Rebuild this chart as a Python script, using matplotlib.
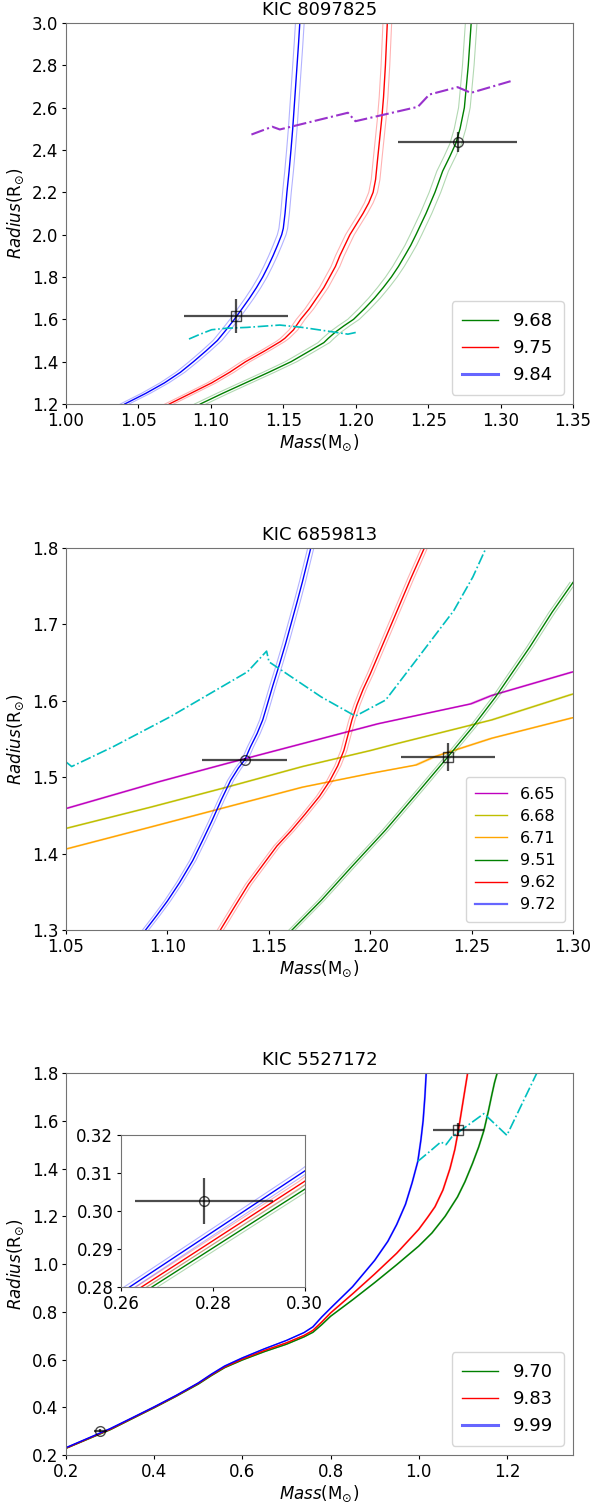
import matplotlib
matplotlib.use("Agg")
import numpy as np
import matplotlib.pyplot as plt

plt.rcParams["font.size"] = 12
plt.rcParams["xtick.major.size"] = 3
plt.rcParams["ytick.major.size"] = 3
plt.rcParams["xtick.major.pad"] = 2.5
plt.rcParams["ytick.major.pad"] = 2.5

# ---------------- KIC 8097825 ----------------
t1_labels = ["9.68", "9.75", "9.84"]
t1_colors = ["g", "r", "b"]
t1_mass = [
    [1.0927, 1.1080, 1.1240, 1.1400, 1.1554, 1.1680, 1.1780, 1.1810, 1.1860, 1.1920, 1.1985, 1.2060, 1.2129,
     1.2190, 1.2246, 1.2295, 1.2338, 1.2380, 1.2416, 1.2485, 1.2547, 1.2600, 1.2650, 1.2690, 1.2720, 1.2750,
     1.2777, 1.2797],
    [1.0713, 1.0860, 1.1006, 1.1130, 1.1240, 1.1370, 1.1480, 1.1510, 1.1570, 1.1620, 1.1680, 1.1730, 1.1780,
     1.1820, 1.1860, 1.1890, 1.1925, 1.1960, 1.2005, 1.2050, 1.2090, 1.2120, 1.2137, 1.2150, 1.2165, 1.2180,
     1.2192, 1.2205, 1.2218],
    [1.0405, 1.0550, 1.0680, 1.0790, 1.0880, 1.0965, 1.1045, 1.1105, 1.1162, 1.1215, 1.1267, 1.1315, 1.1358,
     1.1395, 1.1429, 1.1460, 1.1489, 1.1500, 1.1512, 1.1525, 1.1540, 1.1553, 1.1565, 1.1575, 1.1585, 1.1595,
     1.1605, 1.1614],
]
t1_radius = [
    [1.20, 1.25, 1.30, 1.35, 1.40, 1.45, 1.49, 1.51, 1.54, 1.57, 1.60, 1.65, 1.70,
     1.75, 1.80, 1.85, 1.90, 1.95, 2.00, 2.10, 2.20, 2.30, 2.37, 2.43, 2.50, 2.60,
     2.80, 3.00],
    [1.20, 1.25, 1.30, 1.35, 1.40, 1.45, 1.495, 1.51, 1.55, 1.60, 1.65, 1.70, 1.75,
     1.80, 1.85, 1.90, 1.95, 2.00, 2.05, 2.10, 2.15, 2.20, 2.26, 2.35, 2.45, 2.55,
     2.65, 2.80, 3.00],
    [1.20, 1.25, 1.30, 1.35, 1.40, 1.45, 1.50, 1.55, 1.60, 1.65, 1.70, 1.75, 1.80,
     1.85, 1.90, 1.95, 2.00, 2.03, 2.10, 2.20, 2.30, 2.40, 2.50, 2.60, 2.70, 2.80,
     2.90, 3.00],
]
t1_dm = [0.004, 0.003, 0.003]
t1_purple_m = [1.128, 1.1424, 1.1476, 1.1946, 1.1998, 1.2429, 1.2508, 1.2703, 1.2795, 1.3069]
t1_purple_r = [2.473, 2.510, 2.497, 2.576, 2.536, 2.604, 2.662, 2.697, 2.670, 2.725]
t1_cyan_m = [1.0849, 1.0927, 1.1006, 1.111, 1.125, 1.1476, 1.163, 1.179, 1.1946, 1.200]
t1_cyan_r = [1.507, 1.530, 1.551, 1.558, 1.562, 1.573, 1.562, 1.546, 1.530, 1.538]
t1_stars_m = [1.1175, 1.2703]
t1_stars_r = [1.617, 2.439]
t1_stars_me = [0.036, 0.041]
t1_stars_re = [0.080, 0.047]

# ---------------- KIC 6859813 ----------------
t2_labels = ["6.65", "6.68", "6.71", "9.51", "9.62", "9.72"]
t2_colors = ["m", "y", "orange", "g", "r", "b"]
t2_mass = [
    [1.05, 1.0957, 1.1293, 1.1666, 1.2039, 1.2496, 1.2599, 1.30],
    [1.05, 1.092, 1.1293, 1.1666, 1.2002, 1.2132, 1.2599, 1.30],
    [1.05, 1.092, 1.1293, 1.1666, 1.2002, 1.2226, 1.2319, 1.2599, 1.30],
    [1.1614, 1.1759, 1.1909, 1.2076, 1.2244, 1.2384, 1.2506, 1.2618, 1.2786, 1.2897, 1.30],
    [1.1261, 1.1330, 1.1400, 1.1470, 1.1540, 1.1610, 1.1680, 1.1750, 1.1800, 1.1840, 1.1870, 1.1890,
     1.1910, 1.1935, 1.1965, 1.2000, 1.2040, 1.2080, 1.2120, 1.2160, 1.2200, 1.2267],
    [1.0892, 1.0950, 1.1000, 1.1060, 1.1125, 1.1175, 1.1218, 1.1265, 1.1312, 1.1350, 1.1382, 1.1410,
     1.1442, 1.1470, 1.1489, 1.1520, 1.1554, 1.1583, 1.1610, 1.1640, 1.1666, 1.1707],
]
t2_radius = [
    [1.459, 1.494, 1.518, 1.544, 1.570, 1.596, 1.607, 1.638],
    [1.433, 1.461, 1.487, 1.514, 1.535, 1.544, 1.575, 1.609],
    [1.406, 1.435, 1.461, 1.487, 1.505, 1.516, 1.527, 1.551, 1.578],
    [1.3, 1.339, 1.383, 1.431, 1.483, 1.527, 1.566, 1.605, 1.670, 1.716, 1.755],
    [1.300, 1.330, 1.360, 1.385, 1.410, 1.430, 1.452, 1.475, 1.495, 1.515, 1.535, 1.555,
     1.575, 1.595, 1.615, 1.635, 1.660, 1.685, 1.710, 1.735, 1.760, 1.800],
    [1.300, 1.320, 1.338, 1.362, 1.391, 1.418, 1.442, 1.470, 1.496, 1.512, 1.523, 1.540,
     1.557, 1.575, 1.592, 1.620, 1.649, 1.675, 1.701, 1.730, 1.756, 1.800],
]
t2_dm = [0.001, 0.001, 0.001, 0.0015, 0.0015, 0.0015]
t2_cyan_m = [1.05, 1.0528, 1.0733, 1.1013, 1.1395, 1.1489, 1.1501, 1.1759, 1.1927, 1.2076, 1.2226, 1.2412, 1.2506, 1.2571]
t2_cyan_r = [1.52, 1.514, 1.540, 1.579, 1.638, 1.665, 1.651, 1.605, 1.580, 1.601, 1.653, 1.718, 1.762, 1.8]
t2_stars_m = [1.1382, 1.2384]
t2_stars_r = [1.523, 1.5266]
t2_stars_me = [0.021, 0.023]
t2_stars_re = [0.002, 0.018]

# ---------------- KIC 5527172 ----------------
t3_labels = ["9.70", "9.83", "9.99"]
t3_colors = ["g", "r", "b"]
t3_mass = [
    [0.2, 0.26, 0.30, 0.35, 0.40, 0.45, 0.50, 0.53, 0.56, 0.60, 0.65, 0.70, 0.74, 0.76, 0.78,
     0.80, 0.85, 0.90, 0.95, 1.00, 1.03, 1.06, 1.088, 1.105, 1.122, 1.136, 1.148, 1.158, 1.166, 1.172, 1.178],
    [0.2, 0.26, 0.30, 0.35, 0.40, 0.45, 0.50, 0.53, 0.56, 0.60, 0.65, 0.70, 0.74, 0.76, 0.78,
     0.80, 0.85, 0.90, 0.95, 1.00, 1.02, 1.037, 1.055, 1.071, 1.082, 1.090, 1.097, 1.104, 1.111],
    [0.2, 0.26, 0.30, 0.35, 0.40, 0.45, 0.50, 0.53, 0.56, 0.60, 0.65, 0.70, 0.74, 0.76, 0.78,
     0.80, 0.85, 0.90, 0.93, 0.95, 0.97, 0.985, 0.998, 1.005, 1.010, 1.014, 1.017],
]
t3_radius = [
    [0.228, 0.2748, 0.3057, 0.352, 0.398, 0.446, 0.497, 0.533, 0.566, 0.598, 0.633, 0.664, 0.695, 0.714, 0.746,
     0.781, 0.850, 0.922, 0.997, 1.075, 1.130, 1.200, 1.281, 1.345, 1.421, 1.490, 1.560, 1.640, 1.710, 1.760, 1.800],
    [0.229, 0.2765, 0.3078, 0.354, 0.400, 0.448, 0.500, 0.536, 0.569, 0.602, 0.638, 0.670, 0.701, 0.722, 0.757,
     0.795, 0.875, 0.958, 1.045, 1.145, 1.195, 1.240, 1.310, 1.400, 1.480, 1.560, 1.640, 1.720, 1.800],
    [0.231, 0.2785, 0.3105, 0.356, 0.402, 0.450, 0.502, 0.539, 0.573, 0.607, 0.645, 0.680, 0.713, 0.737, 0.778,
     0.815, 0.905, 1.015, 1.095, 1.165, 1.250, 1.340, 1.430, 1.520, 1.600, 1.700, 1.800],
]
t3_dm = [0.0012, 0.0012, 0.0012]
t3_cyan_m = [0.998, 1.028, 1.05, 1.062, 1.075, 1.148, 1.2, 1.268]
t3_cyan_r = [1.430, 1.476, 1.511, 1.500, 1.532, 1.630, 1.539, 1.8]
t3_stars_m = [1.09, 0.278]
t3_stars_r = [1.563, 0.3026]
t3_stars_me = [0.057, 0.015]
t3_stars_re = [0.028, 0.006]

stars_markers = ["s", "o"]


def draw_tracks(ax, masses, radii, dms, colors, labels):
    for m, r, dm, c, lab in zip(masses, radii, dms, colors, labels):
        m = np.array(m)
        ax.plot(m, r, color=c, lw=1.0, label=lab)
        ax.plot(m - dm, r, color=c, lw=0.8, alpha=0.3)
        ax.plot(m + dm, r, color=c, lw=0.8, alpha=0.3)


def draw_stars(ax, ms, rs, mes, res, markers):
    for m, r, me, re, mk in zip(ms, rs, mes, res, markers):
        ax.errorbar(m, r, xerr=me, yerr=re, fmt=mk, mfc="none", mec="k",
                    ecolor="k", ms=7, elinewidth=1.6, alpha=0.7, zorder=5)


def style(ax, title):
    ax.set_title(title, fontsize=13)
    ax.set_xlabel(r"$Mass$(M$_{\odot}$)", labelpad=2)
    ax.set_ylabel(r"$Radius$(R$_{\odot}$)")
    for s in ax.spines.values():
        s.set_color("0.45")


def add_legend(ax, fs, last_lw, spacing=0.5):
    leg = ax.legend(loc="lower right", fontsize=fs, borderpad=0.6, labelspacing=spacing)
    h = leg.get_lines()[-1]
    h.set_linewidth(last_lw)
    h.set_alpha(0.6)


fig = plt.figure(figsize=(5.93, 15.03), dpi=100)

# top panel
ax1 = fig.add_axes([0.1113, 0.7312, 0.855, 0.2535])
draw_tracks(ax1, t1_mass, t1_radius, t1_dm, t1_colors, t1_labels)
ax1.plot(t1_purple_m, t1_purple_r, "-.", color="darkorchid", lw=1.5)
ax1.plot(t1_cyan_m, t1_cyan_r, "-.", color="c", lw=1.2)
draw_stars(ax1, t1_stars_m, t1_stars_r, t1_stars_me, t1_stars_re, stars_markers)
ax1.set_xlim(1.00, 1.35)
ax1.set_ylim(1.2, 3.0)
ax1.set_xticks(np.arange(1.00, 1.351, 0.05))
ax1.set_yticks(np.arange(1.2, 3.01, 0.2))
add_legend(ax1, 13, 2.2)
style(ax1, "KIC 8097825")

# middle panel
ax2 = fig.add_axes([0.1113, 0.3812, 0.855, 0.2542])
draw_tracks(ax2, t2_mass, t2_radius, t2_dm, t2_colors, t2_labels)
ax2.plot(t2_cyan_m, t2_cyan_r, "-.", color="c", lw=1.2)
draw_stars(ax2, t2_stars_m, t2_stars_r, t2_stars_me, t2_stars_re, ["o", "s"])
ax2.set_xlim(1.05, 1.30)
ax2.set_ylim(1.3, 1.8)
ax2.set_xticks(np.arange(1.05, 1.301, 0.05))
ax2.set_yticks(np.arange(1.3, 1.801, 0.1))
add_legend(ax2, 11.5, 1.6, spacing=0.45)
style(ax2, "KIC 6859813")

# bottom panel
ax3 = fig.add_axes([0.1113, 0.0319, 0.855, 0.2542])
draw_tracks(ax3, t3_mass, t3_radius, t3_dm, t3_colors, t3_labels)
ax3.plot(t3_cyan_m, t3_cyan_r, "-.", color="c", lw=1.2)
draw_stars(ax3, t3_stars_m, t3_stars_r, t3_stars_me, t3_stars_re, stars_markers)
ax3.set_xlim(0.2, 1.35)
ax3.set_ylim(0.2, 1.8)
ax3.set_xticks(np.arange(0.2, 1.21, 0.2))
ax3.set_yticks(np.arange(0.2, 1.81, 0.2))
add_legend(ax3, 13, 2.2)
style(ax3, "KIC 5527172")

# inset
axi = fig.add_axes([0.204, 0.1437, 0.310, 0.1013])
draw_tracks(axi, t3_mass, t3_radius, t3_dm, t3_colors, t3_labels)
draw_stars(axi, t3_stars_m[1:], t3_stars_r[1:], t3_stars_me[1:], t3_stars_re[1:], ["o"])
axi.set_xlim(0.26, 0.30)
axi.set_ylim(0.28, 0.32)
axi.set_xticks([0.26, 0.28, 0.30])
axi.set_yticks([0.28, 0.29, 0.30, 0.31, 0.32])
for s in axi.spines.values():
    s.set_color("0.45")

fig.savefig("out.png", dpi=100)
